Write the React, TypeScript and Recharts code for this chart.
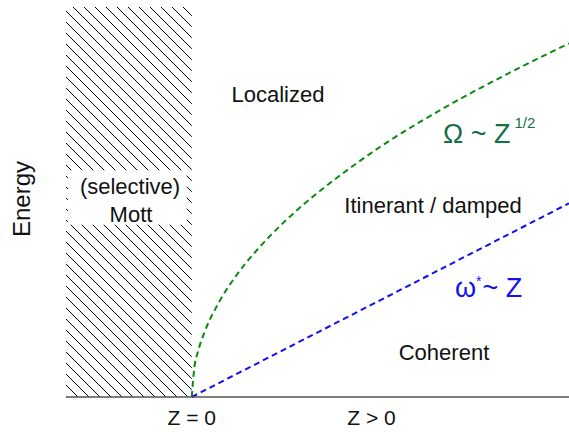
import { LineChart, Line, XAxis, YAxis, ReferenceArea } from 'recharts'

// x axis: Z, with the Mott region to the left of Z = 0
const xDomain = [-1, 3]
const xTickValues = [0, 1.43]
const xTickLabels = ['Z = 0', 'Z > 0']
const yTicks = [0, 1, 2, 3, 4, 5, 6]

// Ω ~ Z^1/2 boundary
const omegaZ = [0, 0.02, 0.05, 0.1, 0.2, 0.35, 0.5, 0.75, 1, 1.25, 1.5, 2, 2.5, 3]
const omegaE = [0, 0.44, 0.7, 0.99, 1.4, 1.86, 2.22, 2.72, 3.14, 3.51, 3.85, 4.44, 4.96, 5.44]

// ω* ~ Z boundary
const coherentZ = [0, 3]
const coherentE = [0, 2.98]

const omegaData = omegaZ.map((z, i) => ({ z, e: omegaE[i] }))
const coherentData = coherentZ.map((z, i) => ({ z, e: coherentE[i] }))

const FONT = '"Liberation Sans", Arial, Helvetica, sans-serif'
const GREEN = '#0b8a12'
const GREEN_TEXT = '#137044'
const BLUE = '#1010f0'
const AXIS = '#555'

export default function App() {
  return (
    <div style={{ position: 'absolute', left: 0, top: 0, width: 569, height: 432, background: '#fff' }}>
      <LineChart
        width={569}
        height={432}
        margin={{ top: 7, right: 0, bottom: 0, left: 66 }}
      >
        <defs>
          <pattern id="hatch" patternUnits="userSpaceOnUse" width={11} height={11}>
            <line x1={0} y1={0} x2={11} y2={11} stroke="#000" strokeWidth={1} />
            <line x1={-1} y1={10} x2={1} y2={12} stroke="#000" strokeWidth={1} />
            <line x1={10} y1={-1} x2={12} y2={1} stroke="#000" strokeWidth={1} />
          </pattern>
        </defs>
        <XAxis
          dataKey="z"
          type="number"
          domain={xDomain}
          ticks={xTickValues}
          tickFormatter={(v) => xTickLabels[xTickValues.indexOf(v)] ?? ''}
          allowDataOverflow
          height={35}
          tickLine={false}
          tickSize={0}
          tickMargin={13}
          stroke={AXIS}
          strokeWidth={1.5}
          tick={{ fill: '#111', fontSize: 21, fontFamily: FONT }}
        />
        <XAxis
          xAxisId="top"
          orientation="top"
          type="number"
          domain={xDomain}
          height={0}
          tick={false}
          tickLine={false}
          stroke={AXIS}
          strokeWidth={2}
        />
        <YAxis
          type="number"
          domain={[0, 6]}
          ticks={yTicks}
          width={0}
          tick={false}
          tickSize={-4}
          stroke={AXIS}
          strokeWidth={2}
          tickLine={{ stroke: '#222', strokeWidth: 1 }}
        />
        <YAxis
          yAxisId="right"
          orientation="right"
          type="number"
          domain={[0, 6]}
          ticks={yTicks}
          width={0}
          tick={false}
          tickSize={-4}
          axisLine={false}
          tickLine={{ stroke: '#222', strokeWidth: 1 }}
        />
        <ReferenceArea x1={-1} x2={0} y1={0} y2={6} fill="url(#hatch)" fillOpacity={1} stroke="none" />
        <ReferenceArea x1={-0.985} x2={-0.04} y1={2.65} y2={3.49} fill="#fff" fillOpacity={1} stroke="none" />
        <Line
          data={omegaData}
          dataKey="e"
          type="monotone"
          stroke={GREEN}
          strokeWidth={2}
          strokeDasharray="6 4"
          dot={false}
          isAnimationActive={false}
        />
        <Line
          data={coherentData}
          dataKey="e"
          type="linear"
          stroke={BLUE}
          strokeWidth={2}
          strokeDasharray="6 4"
          dot={false}
          isAnimationActive={false}
        />
      </LineChart>
      <svg
        width={569}
        height={432}
        style={{ position: 'absolute', left: 0, top: 0, pointerEvents: 'none' }}
        fontFamily={FONT}
      >
        <text x={21} y={199} fontSize={24} fill="#111" textAnchor="middle" dominantBaseline="central" transform="rotate(-90 21 199)">
          Energy
        </text>
        <text x={130} y={194} fontSize={22} fill="#111" textAnchor="middle">(selective)</text>
        <text x={131} y={222} fontSize={22} fill="#111" textAnchor="middle">Mott</text>
        <text x={278} y={102} fontSize={22} fill="#111" textAnchor="middle">Localized</text>
        <text x={433} y={213} fontSize={22} fill="#111" textAnchor="middle">Itinerant / damped</text>
        <text x={444} y={360} fontSize={22} fill="#111" textAnchor="middle">Coherent</text>
        <text x={443} y={143} fontSize={27} fill={GREEN_TEXT}>
          Ω ~ Z
          <tspan fontSize={15} dx={4} dy={-15}>1/2</tspan>
        </text>
        <text x={455} y={297} fontSize={27} fill={BLUE}>
          ω
          <tspan fontSize={14} dy={-11}>*</tspan>
          <tspan dy={11} dx={1}>~ Z</tspan>
        </text>
      </svg>
    </div>
  )
}
